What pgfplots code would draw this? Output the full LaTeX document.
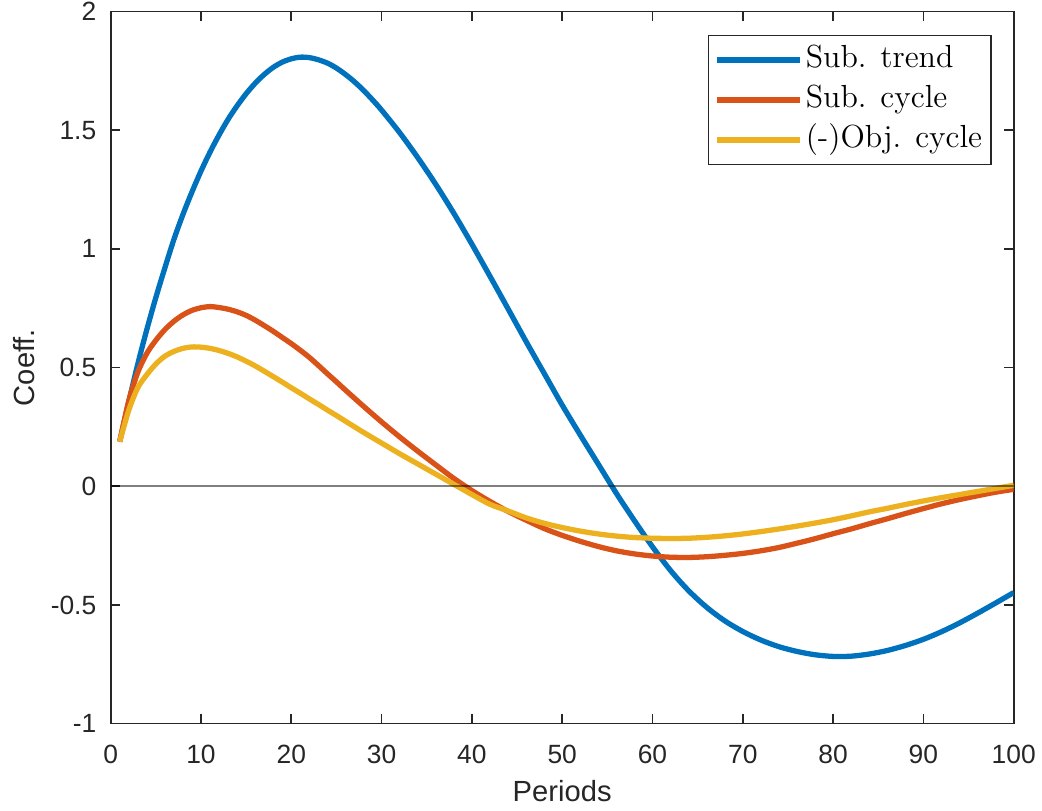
\documentclass[border=0pt]{standalone}
\usepackage{fontspec}
\usepackage{pgfplots}
\pgfplotsset{compat=1.18}
\newfontfamily\arial{Liberation Sans}
\definecolor{mblue}{rgb}{0,0.447,0.741}
\definecolor{morange}{rgb}{0.85,0.325,0.098}
\definecolor{myellow}{rgb}{0.929,0.694,0.125}
\definecolor{axgray}{rgb}{0.15,0.15,0.15}
\begin{document}
\begin{tikzpicture}
\begin{axis}[
  name=ax,
  scale only axis,
  width=325.08pt, height=256.32pt,
  xmin=0, xmax=100, ymin=-1, ymax=2,
  xtick={0,10,...,100},
  ytick={-1,-0.5,0,0.5,1,1.5,2},
  yticklabels={-1,-0.5,0,0.5,1,1.5,2},
  /pgf/number format/assume math mode=true,
  tick align=inside,
  major tick length=3.35pt,
  axis line style={axgray, line width=0.6pt},
  every tick/.style={axgray, line width=0.6pt},
  ticklabel style={font=\arial\fontsize{9.5}{11}\selectfont, text=axgray, inner sep=0pt},
  xticklabel style={anchor=base, yshift=-14.3pt},
  yticklabel style={anchor=east, xshift=-5pt},
  xlabel={Periods}, ylabel={Coeff.},
  label style={font=\arial\fontsize{10.5}{12}\selectfont, text=axgray, inner sep=0pt},
  xlabel style={at={(axis description cs:0.5,0)}, anchor=base, yshift=-28.1pt},
  ylabel style={at={(axis description cs:-0.084,0.5)}, anchor=base, rotate=0},
  legend cell align=left,
  legend image code/.code={\draw[#1] (0pt,0pt) -- (30pt,0pt);},
  legend style={at={(rel axis cs:1,1)}, anchor=north east, xshift=-7.9pt, yshift=-8.4pt,
    draw=axgray, line width=0.5pt, font=\fontsize{11.5}{13.8}\selectfont,
    inner xsep=2pt, inner ysep=1.6pt, row sep=0pt,
    nodes={inner ysep=1.4pt, inner xsep=1.2pt, text height=8.6pt, text depth=3pt}},
]
\addplot[mblue, line width=1.9pt, smooth, line join=round] coordinates {
(1,0.188) (2,0.355) (3,0.515) (4,0.66) (5,0.795) (6,0.92) (7,1.04) (8,1.145)
(9,1.24) (10,1.328) (11,1.408) (12,1.48) (13,1.546) (14,1.603) (15,1.654)
(16,1.698) (17,1.735) (18,1.765) (19,1.787) (20,1.801) (21,1.808) (22,1.806)
(23,1.797) (24,1.783) (25,1.762) (26,1.735) (27,1.704) (28,1.668) (29,1.628)
(30,1.585) (32,1.49) (34,1.385) (36,1.272)
(38,1.15) (40,1.02) (42,0.885) (44,0.748) (46,0.61) (48,0.476) (50,0.342)
(52,0.216) (54,0.093) (56,-0.03) (58,-0.145) (60,-0.255) (62,-0.355) (64,-0.44)
(66,-0.51) (68,-0.567) (70,-0.612) (72,-0.648) (74,-0.676) (76,-0.696) (78,-0.71)
(80,-0.717) (82,-0.716) (84,-0.707) (86,-0.692) (88,-0.671) (90,-0.645)
(92,-0.613) (94,-0.576) (96,-0.535) (98,-0.492) (100,-0.448)};
\addlegendentry{Sub. trend}
\addplot[morange, line width=1.9pt, smooth, line join=round] coordinates {
(1,0.188) (2,0.36) (3,0.48) (4,0.56) (5,0.615) (6,0.66) (7,0.695) (8,0.722)
(9,0.741) (10,0.752) (11,0.757) (12,0.753) (13,0.746) (14,0.735) (15,0.72)
(16,0.70) (17,0.677) (18,0.653) (19,0.627) (20,0.601) (21,0.573) (22,0.543)
(23,0.509) (24,0.474) (25,0.44)
(26,0.405) (28,0.337) (30,0.271) (32,0.208) (34,0.148) (36,0.09) (38,0.033)
(40,-0.018) (42,-0.064) (44,-0.106) (46,-0.143) (48,-0.178) (50,-0.207)
(52,-0.232) (54,-0.254) (56,-0.272) (58,-0.285) (60,-0.294) (62,-0.299)
(64,-0.3) (66,-0.297) (68,-0.291) (70,-0.283) (72,-0.272) (74,-0.258)
(76,-0.24) (78,-0.221) (80,-0.2) (82,-0.18) (84,-0.158) (86,-0.137)
(88,-0.115) (90,-0.094) (92,-0.074) (94,-0.056) (96,-0.04) (98,-0.025) (100,-0.013)};
\addlegendentry{Sub. cycle}
\addplot[myellow, line width=1.9pt, smooth, line join=round] coordinates {
(1,0.188) (2,0.32) (3,0.415) (4,0.47) (5,0.515) (6,0.548) (7,0.568) (8,0.581)
(9,0.587) (10,0.586) (11,0.581) (12,0.572) (13,0.56) (14,0.545) (15,0.527)
(16,0.507) (17,0.485) (18,0.462) (19,0.439) (20,0.415) (21,0.392) (22,0.368)
(23,0.345) (24,0.321) (25,0.298)
(26,0.274) (28,0.227) (30,0.182) (32,0.137) (34,0.094) (36,0.051) (38,0.008)
(40,-0.035) (42,-0.076) (44,-0.104) (46,-0.133) (48,-0.156) (50,-0.174)
(52,-0.189) (54,-0.201) (56,-0.21) (58,-0.216) (60,-0.219) (62,-0.22)
(64,-0.219) (66,-0.215) (68,-0.209) (70,-0.201) (72,-0.191) (74,-0.18)
(76,-0.168) (78,-0.155) (80,-0.141) (82,-0.125) (84,-0.108) (86,-0.093)
(88,-0.077) (90,-0.062) (92,-0.048) (94,-0.035) (96,-0.022) (98,-0.009) (100,0.004)};
\addlegendentry{(-)Obj. cycle}
\addplot[black, opacity=0.5, line width=0.7pt, forget plot] coordinates {(0,0) (100,0)};
\end{axis}
\pgfresetboundingbox
\path ([xshift=-39.85pt,yshift=-31.46pt]ax.south west) rectangle ([xshift=10.19pt,yshift=4.18pt]ax.north east);
\end{tikzpicture}
\end{document}
